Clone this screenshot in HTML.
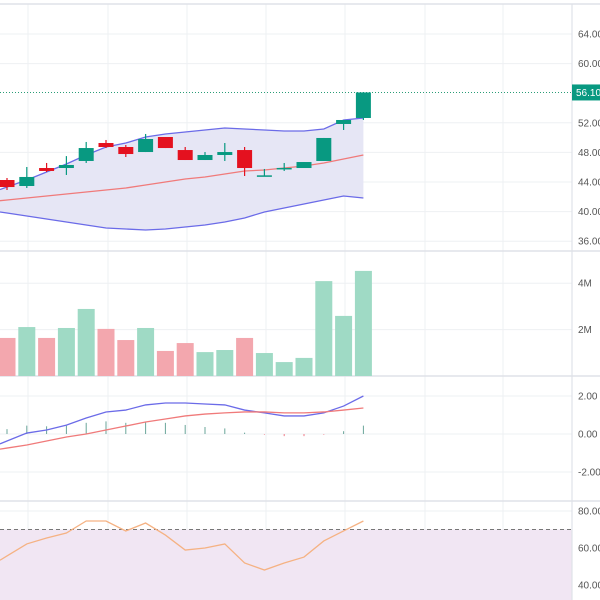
<!DOCTYPE html>
<html><head><meta charset="utf-8"><style>
html,body{margin:0;padding:0;background:#fff;overflow:hidden}
svg{display:block;font-family:"Liberation Sans",sans-serif}
</style></head><body>
<svg id="c" width="600" height="600" viewBox="0 0 600 600"></svg>
<script>
const opens=[44.27,43.46,45.89,45.89,46.84,49.27,48.73,48.05,50.08,48.32,46.97,47.65,48.32,44.81,45.76,45.89,46.84,51.84,52.65];
const closes=[43.32,44.68,45.49,46.30,48.59,48.73,47.78,49.81,48.59,46.97,47.65,48.05,45.89,44.90,45.90,46.70,49.95,52.38,56.10];
const highs=[44.54,46.03,46.57,47.50,49.41,49.68,49.00,50.49,50.08,48.73,48.05,49.27,48.73,45.76,46.57,46.70,49.95,52.38,56.16];
const lows=[42.92,43.19,45.35,44.95,46.57,48.59,47.38,48.05,48.59,46.97,46.97,46.84,44.81,44.81,45.49,45.89,46.84,51.03,52.38];
const bbUpper=[43.32,44.27,45.35,46.43,47.65,48.73,49.27,50.08,50.49,50.76,51.03,51.30,51.16,51.03,50.89,50.89,51.16,52.38,52.65];
const bbMiddle=[41.57,41.84,42.11,42.38,42.65,42.92,43.19,43.59,44.00,44.41,44.68,45.08,45.49,45.62,45.89,46.16,46.57,47.11,47.65];
const bbLower=[39.81,39.41,39.00,38.59,38.19,37.78,37.65,37.51,37.65,37.92,38.19,38.59,39.14,39.95,40.49,41.03,41.57,42.11,41.84];
const volumes=[1.64,2.11,1.64,2.07,2.89,2.03,1.55,2.07,1.08,1.42,1.03,1.12,1.64,0.99,0.60,0.78,4.09,2.59,4.53];
const macdLine=[-0.37,0.05,0.21,0.47,0.84,1.16,1.26,1.53,1.63,1.63,1.58,1.53,1.26,1.11,0.95,0.95,1.11,1.47,2.00];
const signalLine=[-0.74,-0.58,-0.37,-0.16,0,0.21,0.42,0.63,0.79,0.95,1.05,1.11,1.16,1.16,1.11,1.11,1.16,1.26,1.37];
const rsiValues=[55.7,62.2,65.4,68.1,74.6,74.6,69.2,73.5,67.0,58.9,60.0,62.2,51.9,48.1,51.9,55.1,63.8,69.2,74.6];
const priceTicks=[64,60,52,48,44,40,36];
const volTicks=[4,2];
const macdTicks=[2,0,-2];
const rsiTicks=[80,60,40];
const lastPrice=56.1;

const NS="http://www.w3.org/2000/svg", svg=document.getElementById('c');
function el(t,a,p){const e=document.createElementNS(NS,t);for(const k in a)e.setAttribute(k,a[k]);(p||svg).appendChild(e);return e;}
const X=i=>7+i*19.8;
const Yp=v=>34+(64-v)*7.4;
const Yv=v=>376-v*23.2;
const Ym=v=>434-v*19;
const Yr=v=>511+(80-v)*1.85;
// points for a series, extended to the left edge using the slope of the first segment
function pts(arr,Y){const first=arr[0]-(arr[1]-arr[0])*(7/19.8);
 return ['0,'+Y(first)].concat(arr.map((v,i)=>X(i)+','+Y(v)));}
const grid=el('g',{});
[28,108,187,266,345,425,503].forEach(x=>el('line',{x1:x,x2:x,y1:4,y2:600,stroke:'#eef0f3'},grid));
const hg=[...priceTicks.map(Yp),...volTicks.map(Yv),...macdTicks.map(Ym),...rsiTicks.map(Yr)];
hg.forEach(y=>el('line',{x1:0,x2:572,y1:y,y2:y,stroke:'#eef0f3'},grid));
const rb=el('rect',{x:0,y:Yr(70),width:572,height:600-Yr(70),fill:'#f1e6f3'});

[4,251,376,501].forEach(y=>el('line',{x1:0,x2:600,y1:y,y2:y,stroke:'#dfe2e8','stroke-width':1.5}));
el('line',{x1:572,x2:572,y1:4,y2:600,stroke:'#dfe2e8','stroke-width':1.2});
const up=pts(bbUpper,Yp), lo=pts(bbLower,Yp);
const bf=el('polygon',{points:up.join(' ')+' '+lo.reverse().join(' '),fill:'#e6e6f5'});

function line(arr,Y,color,name,w){const p=el('polyline',{points:pts(arr,Y).join(' '),fill:'none',stroke:color,'stroke-width':w||1.3});return p;}
line(bbUpper,Yp,'#6b6be8','bollinger-upper');
line(bbLower,Yp,'#6b6be8','bollinger-lower');
line(bbMiddle,Yp,'#f07a7a','bollinger-middle');
const lp=el('line',{x1:0,x2:572,y1:Yp(lastPrice),y2:Yp(lastPrice),stroke:'#2a9d77','stroke-dasharray':'1 2'});

opens.forEach((o,i)=>{const c=closes[i],u=c>=o,col=u?'#089981':'#e4111f';
 const g=el('g',{});
 el('line',{x1:X(i),x2:X(i),y1:Yp(highs[i]),y2:Yp(lows[i]),stroke:col,'stroke-width':1.2},g);
 const t=Yp(Math.max(o,c)),b=Yp(Math.min(o,c));
 el('rect',{x:X(i)-7.5,y:t,width:15,height:Math.max(1.5,b-t),fill:col},g);});
volumes.forEach((v,i)=>{const u=closes[i]>=opens[i];
 const r=el('rect',{x:X(i)-8.5,y:Yv(v),width:17,height:376-Yv(v),fill:u?'#9fdac5':'#f3a7ae'});
 });
macdLine.forEach((m,i)=>{const d=m-signalLine[i];
 const h=el('line',{x1:X(i),x2:X(i),y1:Ym(0),y2:Ym(d*0.7),stroke:d>=0?'#6aa69a':'#f07a86','stroke-width':1});
 });
line(macdLine,Ym,'#6b6be8','macd-line');
line(signalLine,Ym,'#f07a7a','signal-line');
const rl=el('line',{x1:0,x2:572,y1:Yr(70),y2:Yr(70),stroke:'#777','stroke-dasharray':'4 3'});

line(rsiValues,Yr,'#f5b283','rsi-line');
function lab(y,t,name){const e=el('text',{x:578,y:y+3.5,'font-size':10,fill:'#555'});e.textContent=t;}
priceTicks.forEach(v=>lab(Yp(v),v.toFixed(2),'price-tick'));
volTicks.forEach(v=>lab(Yv(v),v+'M','volume-tick'));
macdTicks.forEach(v=>lab(Ym(v),v.toFixed(2),'macd-tick'));
rsiTicks.forEach(v=>lab(Yr(v),v.toFixed(2),'rsi-tick'));
const bx=el('rect',{x:572,y:Yp(lastPrice)-8,width:28,height:16,fill:'#089981'});

const bt=el('text',{x:576,y:Yp(lastPrice)+3.5,'font-size':10,fill:'#fff'});bt.textContent=lastPrice.toFixed(2);

</script>
</body></html>
